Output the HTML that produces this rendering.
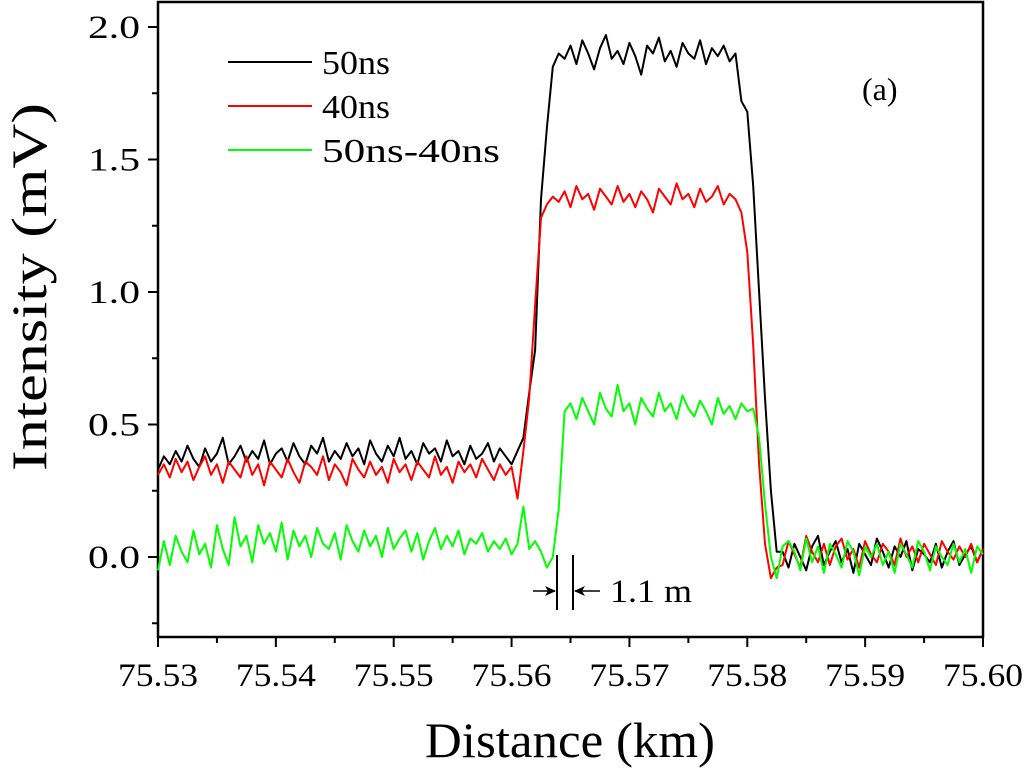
<!DOCTYPE html>
<html><head><meta charset="utf-8"><style>
html,body{margin:0;padding:0;background:#fff}
svg{display:block;font-family:"Liberation Serif",serif}
</style></head><body>
<svg id="chart" width="1024" height="769" viewBox="0 0 1024 769">
<g id="axes"></g>
<g id="series"></g>
<g>
<line x1="228" y1="62" x2="312" y2="62" stroke="#000" stroke-width="2"/>
<text x="322" y="74" font-size="34" textLength="68" lengthAdjust="spacingAndGlyphs">50ns</text>
<line x1="228" y1="106" x2="312" y2="106" stroke="#f00" stroke-width="2"/>
<text x="322" y="118" font-size="34" textLength="68" lengthAdjust="spacingAndGlyphs">40ns</text>
<line x1="228" y1="150" x2="312" y2="150" stroke="#0f0" stroke-width="2"/>
<text x="322" y="162" font-size="34" textLength="178" lengthAdjust="spacingAndGlyphs">50ns-40ns</text>
</g>
<text x="862" y="100" font-size="32">(a)</text>
<g>
<line x1="557" y1="555" x2="557" y2="610" stroke="#000" stroke-width="2"/>
<line x1="573" y1="555" x2="573" y2="610" stroke="#000" stroke-width="2"/>
<line x1="533" y1="591" x2="555" y2="591" stroke="#000" stroke-width="1.5"/>
<path d="M556,591 L545,586 L548,591 L545,596 Z" fill="#000"/>
<line x1="575" y1="591" x2="600" y2="591" stroke="#000" stroke-width="1.5"/>
<path d="M574,591 L585,586 L582,591 L585,596 Z" fill="#000"/>
<text x="610" y="602" font-size="33" textLength="82" lengthAdjust="spacingAndGlyphs">1.1 m</text>
</g>
<text x="570" y="757" font-size="50" text-anchor="middle" textLength="290" lengthAdjust="spacingAndGlyphs">Distance (km)</text>
<text transform="translate(46,287) rotate(-90)" font-size="50" text-anchor="middle" textLength="368" lengthAdjust="spacingAndGlyphs">Intensity (mV)</text>
</svg>
<script>
const xStart = 75.53, xStep = 0.0005;
const xTicks = [75.53,75.54,75.55,75.56,75.57,75.58,75.59,75.60];
const xTickLabels = ["75.53","75.54","75.55","75.56","75.57","75.58","75.59","75.60"];
const yTicks = [0.0,0.5,1.0,1.5,2.0];
const yTickLabels = ["0.0","0.5","1.0","1.5","2.0"];
const series50 = [
0.33,0.38,0.35,0.40,0.36,0.42,0.37,0.34,0.41,0.36,
0.39,0.45,0.35,0.38,0.42,0.36,0.40,0.37,0.44,0.35,
0.39,0.41,0.36,0.43,0.38,0.35,0.42,0.39,0.45,0.36,
0.40,0.37,0.43,0.38,0.41,0.35,0.44,0.39,0.36,0.42,
0.38,0.45,0.37,0.40,0.35,0.43,0.39,0.41,0.36,0.44,
0.38,0.40,0.35,0.42,0.37,0.39,0.43,0.36,0.41,0.38,
0.35,0.40,0.45,0.62,0.78,1.35,1.62,1.85,1.90,1.88,
1.93,1.86,1.95,1.90,1.84,1.92,1.97,1.88,1.91,1.86,
1.94,1.89,1.82,1.93,1.90,1.96,1.87,1.91,1.85,1.94,
1.90,1.88,1.95,1.86,1.92,1.89,1.93,1.87,1.90,1.72,
1.68,1.40,1.00,0.60,0.25,0.02,0.02,-0.04,0.05,0.00,
-0.05,0.04,0.08,-0.03,0.02,0.06,-0.02,0.03,-0.06,0.05,
0.01,-0.03,0.07,0.02,-0.04,0.04,0.00,0.06,-0.05,0.03,
0.01,-0.02,0.05,-0.04,0.02,0.06,-0.03,0.01,0.04,-0.02,
0.03];
const series40 = [
0.31,0.35,0.30,0.37,0.32,0.36,0.29,0.34,0.38,0.31,
0.35,0.28,0.36,0.33,0.30,0.38,0.31,0.35,0.27,0.36,
0.33,0.30,0.37,0.32,0.28,0.36,0.34,0.31,0.38,0.29,
0.35,0.32,0.27,0.37,0.33,0.30,0.36,0.31,0.34,0.28,
0.37,0.32,0.35,0.29,0.36,0.33,0.30,0.38,0.31,0.34,
0.28,0.36,0.32,0.35,0.30,0.37,0.33,0.29,0.35,0.31,
0.34,0.22,0.40,0.60,0.95,1.28,1.33,1.36,1.34,1.38,
1.32,1.40,1.35,1.37,1.31,1.39,1.36,1.33,1.40,1.34,
1.37,1.32,1.38,1.35,1.30,1.39,1.36,1.33,1.41,1.35,
1.37,1.32,1.39,1.34,1.36,1.40,1.33,1.37,1.35,1.30,
1.15,0.80,0.35,0.05,-0.08,-0.04,-0.03,0.06,0.01,-0.04,
0.08,0.02,-0.02,0.05,-0.03,0.04,0.07,-0.01,0.03,-0.04,
0.06,0.01,-0.02,0.05,0.02,-0.03,0.07,0.00,0.04,-0.02,
0.05,0.01,-0.03,0.06,0.02,-0.01,0.04,0.00,0.05,-0.02,
0.03];
const seriesDiff = [
-0.05,0.06,-0.03,0.08,0.02,-0.02,0.10,0.01,0.05,-0.04,
0.12,0.03,-0.03,0.15,0.04,0.08,-0.02,0.12,0.05,0.09,
0.02,0.13,-0.01,0.10,0.04,0.08,0.00,0.11,0.05,0.03,
0.09,-0.01,0.12,0.06,0.02,0.10,0.04,0.08,0.00,0.11,
0.03,0.07,0.10,0.02,0.09,-0.01,0.06,0.11,0.03,0.08,
0.04,0.10,0.01,0.07,0.05,0.09,0.02,0.06,0.03,0.07,
0.01,0.05,0.19,0.03,0.06,0.02,-0.04,0.00,0.18,0.55,
0.58,0.52,0.60,0.55,0.50,0.62,0.56,0.53,0.65,0.55,
0.58,0.50,0.60,0.56,0.53,0.62,0.55,0.58,0.52,0.61,
0.56,0.53,0.59,0.55,0.50,0.60,0.54,0.57,0.52,0.58,
0.55,0.56,0.45,0.20,0.00,-0.08,0.04,0.06,0.02,-0.05,
0.07,-0.02,0.04,-0.06,0.05,0.01,-0.04,0.06,0.02,-0.07,
0.04,0.00,0.05,-0.03,0.02,-0.06,0.05,0.01,-0.04,0.06,
0.02,-0.05,0.04,0.00,-0.03,0.05,-0.02,0.03,-0.06,0.04,
0.01];
const L=158,R=983,T=2,B=637;
function xs(v){return L+(v-75.53)/0.07*(R-L);}
function ys(v){return 557-v*265;}
const NS="http://www.w3.org/2000/svg";
function mk(tag,attrs,parent){const e=document.createElementNS(NS,tag);for(const k in attrs)e.setAttribute(k,attrs[k]);parent.appendChild(e);return e;}
const ax=document.getElementById('axes');
const frame=mk('rect',{x:L,y:T,width:R-L,height:B-T,fill:'none',stroke:'#000','stroke-width':2.5},ax);


xTicks.forEach((t,i)=>{
  const x=xs(t);
  const tk=mk('line',{x1:x,y1:B,x2:x,y2:B+10,stroke:'#000','stroke-width':2},ax);
  
  
  if(i<xTicks.length-1){const m=xs(t+0.005);mk('line',{x1:m,y1:B,x2:m,y2:B+6,stroke:'#000','stroke-width':2},ax);}
  const lb=mk('text',{x:x,y:B+49,'font-size':33,'text-anchor':'middle',textLength:80,lengthAdjust:'spacingAndGlyphs'},ax);
  lb.textContent=xTickLabels[i];
  
  
});
yTicks.forEach((t,i)=>{
  const y=ys(t);
  const tk=mk('line',{x1:L-10,y1:y,x2:L,y2:y,stroke:'#000','stroke-width':2},ax);
  
  
  const m=ys(t-0.25);mk('line',{x1:L-6,y1:m,x2:L,y2:m,stroke:'#000','stroke-width':2},ax);
  const lb=mk('text',{x:L-18,y:y+11,'font-size':33,'text-anchor':'end',textLength:52,lengthAdjust:'spacingAndGlyphs'},ax);
  lb.textContent=yTickLabels[i];
  
  
});
const sg=document.getElementById('series');
function draw(arr,color,name){
  const d=arr.map((v,i)=>(i?'L':'M')+xs(xStart+i*xStep).toFixed(1)+','+ys(v).toFixed(1)).join('');
  const p=mk('path',{d:d,fill:'none',stroke:color,'stroke-width':2,'stroke-linejoin':'round'},sg);
  
  
}
draw(series50,'#000','line-50ns');
draw(series40,'#f00','line-40ns');
draw(seriesDiff,'#0f0','line-50ns-40ns');
</script>
</body></html>
